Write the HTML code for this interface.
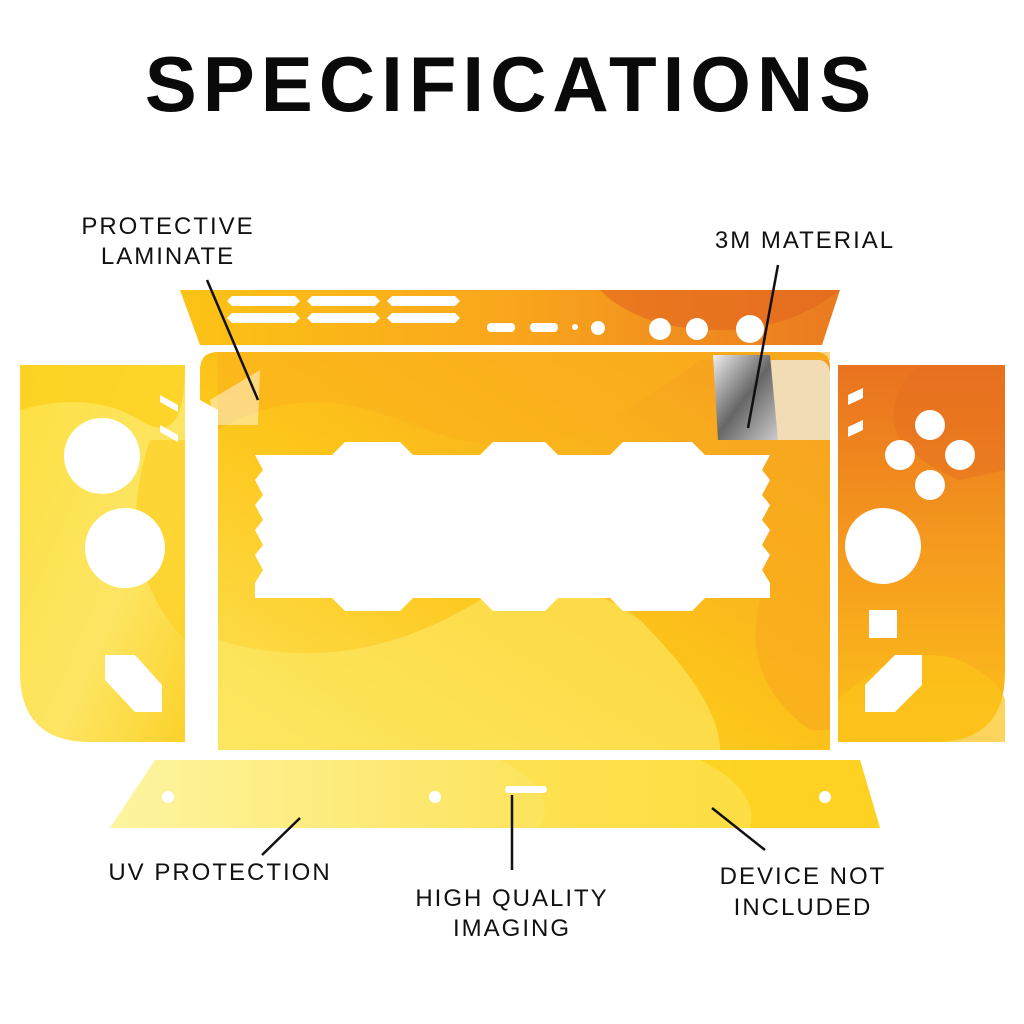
<!DOCTYPE html>
<html><head><meta charset="utf-8"><style>
html,body{margin:0;padding:0;background:#fff;}
svg{display:block;}
text{font-family:"Liberation Sans",sans-serif;}
</style></head><body>
<svg width="1024" height="1024" viewBox="0 0 1024 1024" xmlns="http://www.w3.org/2000/svg">
<defs>
<linearGradient id="gTop" x1="0" y1="0" x2="1" y2="0">
<stop offset="0" stop-color="#fcc315"/><stop offset="0.5" stop-color="#f9a61c"/><stop offset="1" stop-color="#ea7a20"/></linearGradient>
<linearGradient id="gMain" x1="0" y1="1" x2="1" y2="0">
<stop offset="0" stop-color="#fde45a"/><stop offset="0.45" stop-color="#fdc61a"/><stop offset="1" stop-color="#f59a1f"/></linearGradient>
<linearGradient id="gL" x1="0" y1="0" x2="1" y2="1">
<stop offset="0" stop-color="#fde040"/><stop offset="0.6" stop-color="#fde564"/><stop offset="1" stop-color="#fcd22a"/></linearGradient>
<linearGradient id="gR" x1="0" y1="0" x2="0" y2="1">
<stop offset="0" stop-color="#e9721f"/><stop offset="0.5" stop-color="#f59b1e"/><stop offset="1" stop-color="#fcc21a"/></linearGradient>
<linearGradient id="gB" x1="0" y1="0" x2="1" y2="0">
<stop offset="0" stop-color="#fdf4a0"/><stop offset="0.55" stop-color="#fde45e"/><stop offset="1" stop-color="#fcd21c"/></linearGradient>
<linearGradient id="gMetal" x1="0" y1="0" x2="1" y2="1">
<stop offset="0" stop-color="#eee"/><stop offset="0.5" stop-color="#666"/><stop offset="1" stop-color="#ccc"/></linearGradient>
</defs>

<text x="511" y="111" text-anchor="middle" font-size="78" font-weight="bold" letter-spacing="6" fill="#0a0a0a">SPECIFICATIONS</text>

<!-- top strip -->
<path d="M180,290 L840,290 L822,345 L200,345 Z" fill="url(#gTop)"/>
<path d="M600,290 Q640,330 720,330 Q790,330 840,290 Z" fill="#e2641f" opacity="0.6"/>
<g fill="#fff">
<polygon points="232,296 295,296 300,301 295,306 232,306 227,301"/>
<polygon points="312,296 375,296 380,301 375,306 312,306 307,301"/>
<polygon points="392,296 455,296 460,301 455,306 392,306 387,301"/>
<polygon points="232,313 295,313 300,318 295,323 232,323 227,318"/>
<polygon points="312,313 375,313 380,318 375,323 312,323 307,318"/>
<polygon points="392,313 455,313 460,318 455,323 392,323 387,318"/>
<rect x="487" y="323" width="28" height="9" rx="4"/>
<rect x="530" y="323" width="28" height="9" rx="4"/>
<circle cx="575" cy="327" r="3"/>
<circle cx="598" cy="328" r="7"/>
<circle cx="660" cy="329" r="11"/>
<circle cx="697" cy="329" r="11"/>
<circle cx="750" cy="329" r="14"/>
</g>

<!-- main panel -->
<path d="M218,352 L815,352 Q830,352 830,367 L830,750 L218,750 L218,410 L200,400 L200,370 Q200,352 218,352 Z" fill="url(#gMain)"/>
<path d="M218,430 Q300,380 400,420 Q500,460 560,440 Q620,420 700,360 L830,360 L830,352 L218,352 Z" fill="#fbb01c" opacity="0.55"/>
<path d="M480,600 Q560,560 640,620 Q720,700 720,750 L218,750 L218,640 Q350,680 480,600 Z" fill="#fde968" opacity="0.6"/>
<path d="M720,440 Q780,520 760,600 Q740,680 810,730 L830,730 L830,420 Z" fill="#f8a81e" opacity="0.6"/>
<polygon points="210,400 260,370 258,425 215,425" fill="#fff" opacity="0.45"/>
<path d="M770,360 L820,360 Q830,362 830,375 L830,440 L775,440 Z" fill="#f2dcb6"/>
<path d="M713,355 L770,355 L778,440 L718,440 Z" fill="url(#gMetal)"/>
<path fill="#fff" d="M255,455 L332,455 L345,442 L400,442 L413,455 L480,455 L493,442 L545,442 L558,455 L610,455 L623,442 L692,442 L705,455 L770,455
L762,470 L770,480 L762,495 L770,505 L762,520 L770,530 L762,545 L770,555 L762,570 L770,583 L770,598 L705,598 L692,611 L623,611 L610,598 L558,598 L545,611 L493,611 L480,598 L413,598 L400,611 L345,611 L332,598 L255,598
L255,583 L263,570 L255,555 L263,545 L255,530 L263,520 L255,505 L263,495 L255,480 L263,470 Z"/>

<!-- left joycon -->
<path d="M20,365 L185,365 L185,742 L90,742 Q20,742 20,672 Z" fill="url(#gL)"/>
<path d="M20,410 Q90,390 140,420 Q185,450 185,365 L20,365 Z" fill="#fccf1c" opacity="0.8"/>
<path d="M150,440 Q110,560 185,640 L185,440 Z" fill="#fcd22a" opacity="0.8"/>
<g fill="#fff">
<circle cx="102" cy="456" r="38"/>
<circle cx="125" cy="548" r="40"/>
<polygon points="160,395 178,405 178,412 160,402"/>
<polygon points="160,425 178,435 178,442 160,432"/>
<polygon points="105,655 135,655 162,685 162,712 135,712 105,680"/>
</g>

<!-- right joycon -->
<path d="M838,365 L1005,365 L1005,672 Q1005,742 935,742 L838,742 Z" fill="url(#gR)"/>
<path d="M838,365 L920,365 Q880,400 900,440 Q930,470 960,480 L1005,470 L1005,365 Z" fill="#e56d1f" opacity="0.5"/>
<path d="M838,700 Q900,640 960,660 Q1000,680 1005,700 L1005,742 L838,742 Z" fill="#fcc31a" opacity="0.7"/>
<g fill="#fff">
<circle cx="930" cy="425" r="15"/>
<circle cx="900" cy="455" r="15"/>
<circle cx="960" cy="455" r="15"/>
<circle cx="930" cy="485" r="15"/>
<circle cx="883" cy="546" r="38"/>
<rect x="869" y="610" width="28" height="28"/>
<polygon points="848,395 863,388 863,398 848,405"/>
<polygon points="848,427 863,420 863,430 848,437"/>
<polygon points="895,655 922,655 922,685 895,712 865,712 865,685"/>
</g>

<!-- bottom strip -->
<path d="M155,760 L860,760 L880,828 L110,828 Z" fill="url(#gB)"/>
<path d="M500,760 Q560,790 540,828 L880,828 L860,760 Z" fill="#fde04a" opacity="0.7"/>
<path d="M700,760 Q760,790 750,828 L880,828 L860,760 Z" fill="#fcd01c" opacity="0.8"/>
<g fill="#fff">
<circle cx="168" cy="797" r="6"/>
<circle cx="435" cy="797" r="6"/>
<rect x="505" y="786" width="42" height="7" rx="3.5"/>
<circle cx="825" cy="797" r="6"/>
</g>

<g stroke="#111" stroke-width="2.5" fill="none">
<line x1="207" y1="280" x2="258" y2="400"/>
<line x1="778" y1="265" x2="748" y2="428"/>
<line x1="262" y1="855" x2="300" y2="818"/>
<line x1="512" y1="870" x2="512" y2="795"/>
<line x1="712" y1="808" x2="765" y2="850"/>
</g>

<g font-size="24" fill="#111" letter-spacing="2" text-anchor="middle">
<text x="168" y="234">PROTECTIVE</text>
<text x="168" y="264">LAMINATE</text>
<text x="805" y="248">3M MATERIAL</text>
<text x="220" y="880">UV PROTECTION</text>
<text x="512" y="906">HIGH QUALITY</text>
<text x="512" y="936">IMAGING</text>
<text x="803" y="884">DEVICE NOT</text>
<text x="803" y="915">INCLUDED</text>
</g>
</svg>
</body></html>
